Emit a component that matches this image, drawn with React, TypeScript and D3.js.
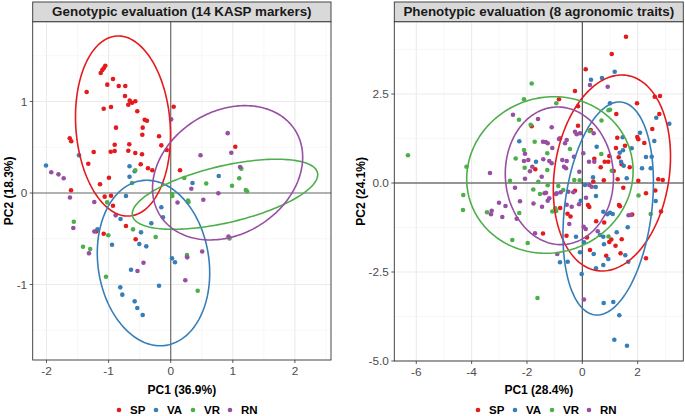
import React from 'react';
import * as d3 from 'd3';

const groups = ['SP', 'VA', 'VR', 'RN'];
const colors = ['#E41A1C', '#377EB8', '#4DAF4A', '#984EA3'];

// Genotypic PCA scores [PC1, PC2]
const genoSP = [[-1.053,1.391],[-1.079,1.363],[-1.101,1.344],[-1.127,1.311],[-0.929,1.246],[-1.021,1.184],[-0.837,1.169],[-0.731,1.169],[-1.353,1.104],[-0.736,1.06],[-0.66,1.009],[-0.57,1.002],[-0.623,0.987],[-0.683,0.965],[-0.961,0.94],[-1.079,0.921],[-0.538,0.893],[0.048,0.943],[-0.419,0.801],[-0.382,0.79],[-0.881,0.714],[-0.451,0.714],[-0.457,0.637],[-1.626,0.598],[-1.601,0.565],[-0.188,0.62],[-0.902,0.528],[-0.667,0.532],[-0.151,0.521],[-1.24,0.448],[-0.966,0.451],[-0.902,0.459],[-0.683,0.462],[-0.57,0.437],[-0.462,0.423],[-0.064,0.47],[-1.327,0.32],[-0.483,0.314],[-0.366,0.27],[-0.296,0.248],[0.15,0.248],[-0.994,0.167],[-1.138,0.095],[-1.605,0.03],[-1.063,-0.04],[-0.961,-0.03],[1.04,0.506],[-0.929,-0.139],[-0.72,-0.361],[-1.198,-0.419],[-1.079,-0.445],[-0.564,-0.506]];
const genoVA = [[-2.008,0.301],[-1.477,0.413],[-0.663,0.293],[-0.58,0.237],[-0.663,0.178],[-0.72,-0.033],[0.351,0.109],[0.773,0.186],[-0.151,-0.156],[-0.808,-0.284],[-0.124,-0.266],[-0.312,-0.331],[-1.179,-0.396],[-0.478,-0.43],[-0.945,-0.565],[-0.506,-0.557],[-0.393,-0.583],[0.021,-0.714],[0.069,-0.757],[-0.639,-0.838],[-0.188,-1.013],[-0.812,-1.031],[-0.779,-1.111],[-0.58,-1.184],[-0.538,-1.257],[-0.451,-1.333]];
const genoVR = [[-0.57,0.248],[-0.623,0.109],[0.021,-0.011],[0.026,-0.033],[0.219,0.164],[0.572,0.104],[1.137,0.266],[1.103,0.162],[0.987,0.079],[1.209,0.033],[1.229,0.019],[0.279,-0.082],[0.287,-0.098],[0.947,-0.497],[0.262,-0.678],[0.262,-0.694],[-1.023,-0.102],[-1.56,-0.314],[-0.607,-0.397],[-1.005,-0.462],[-0.242,-0.481],[-1.412,-0.587],[-1.296,-0.612],[-1.042,-0.915],[0.435,-1.068]];
const genoRN = [[-1.923,0.226],[-1.807,0.204],[-1.723,0.161],[-1.622,-0.049],[0.008,0.805],[0.918,0.654],[0.976,0.44],[0.48,0.412],[1.116,0.284],[0.332,0.046],[0.767,-0.003],[0.11,-0.104],[0.525,-0.073],[0.931,-0.475],[0.507,-0.639],[0.266,-0.703],[-1.23,-0.098],[-0.886,-0.244],[-1.568,-0.383],[-1.23,-0.421],[-1.316,-0.659],[-0.438,-0.762],[-0.535,-0.852],[0.235,-0.954]];

// Phenotypic PCA scores [PC1, PC2]
const phenoSP = [[1.579,4.11],[1.063,3.624],[0.123,3.194],[-0.264,2.584],[-0.842,2.351],[-0.155,2.154],[1.977,2.239],[2.617,2.424],[2.808,2.444],[2.783,1.938],[1.229,1.938],[2.53,1.517],[1.988,1.292],[2.024,1.228],[1.265,1.272],[2.241,1.124],[0.304,1.489],[-0.155,1.61],[1.218,0.983],[1.543,1.048],[0.81,0.598],[0.94,0.598],[0.976,0.758],[1.424,0.525],[1.316,0.722],[0.665,0.441],[1.135,0.337],[0.434,0.683],[1.713,0.441],[0.398,0.042],[0.777,0.079],[1.279,0.107],[2.024,0.065],[2.747,0.107],[2.906,0.084],[-1.829,1.593],[-1.699,0.385],[1.482,-0.132],[2.638,-0.211],[2.302,-0.289],[2.844,-0.801],[1.803,-0.885],[1.326,-0.618],[1.362,-0.654],[0.206,-0.618],[0.253,-0.674],[-0.535,-0.862],[-0.426,-0.941],[-0.799,-0.702],[0.791,-1.11],[0.502,-1.076],[-0.571,-1.48],[0.17,-1.531],[1.048,-1.587],[1.424,-1.581],[1.2,-1.761],[0.278,-1.882],[1.381,-1.975],[0.864,-2.045],[2.302,-2.115],[-1.42,-1.419],[0.976,-1.657],[-0.264,-0.216]];
const phenoVA = [[1.171,3.126],[0.712,2.949],[0.314,2.902],[1.001,2.239],[2.674,1.834],[3.144,1.666],[2.085,1.413],[1.46,1.284],[2.602,1.18],[0.52,1.02],[1.785,0.975],[2.302,0.73],[1.471,0.919],[1.399,0.598],[1.605,0.132],[0.387,0.16],[2.158,0.413],[2.472,0.413],[-2.277,1.171],[-1.673,0.598],[-0.925,-0.289],[0.098,-0.056],[0.484,-0.112],[-0.058,-0.497],[0.495,-0.365],[1.641,-1.244],[0.759,-0.806],[0.904,-0.879],[1.001,-0.834],[1.099,-0.871],[0.64,-1.461],[0.759,-1.508],[-0.228,-1.508],[0.061,-1.666],[0.412,-1.994],[-0.083,-1.947],[-0.528,-2.211],[-0.806,-2.228],[-0.022,-2.556],[0.495,-2.396],[0.759,-2.303],[0.94,-2.135],[1.554,-2.031],[1.662,-2.211],[1.243,-1.385],[0.784,-1.722],[0.773,-3.371],[1.12,-3.343],[1.337,-3.716],[1.157,-4.402],[1.615,-4.57],[2.653,-0.506],[1.352,0.851],[1.496,0.486],[2.508,0.739]];
const phenoVR = [[-1.829,2.795],[-2.107,2.354],[-2.288,1.778],[-1.865,1.638],[-6.299,0.778],[-4.185,0.455],[-4.301,-0.337],[-1.72,1.16],[-2.107,0.927],[-2.407,0.688],[-2.082,0.43],[-1.265,0.834],[-1.265,0.365],[-2.613,0.065],[-1.59,0.037],[-1.771,-0.183],[-1.25,-0.065],[-0.94,2.239],[1.001,2.059],[0.947,2.042],[0.694,1.756],[0.267,1.461],[0.687,0.815],[1.063,0.346],[-0.445,0.955],[-0.289,0.084],[-0.094,0.076],[-4.312,-0.758],[-3.444,-0.823],[-2.277,-0.843],[-2.53,-1.601],[-1.973,-1.685],[-1.619,-3.23],[-1.529,-0.309],[-1.084,-0.801],[-0.94,-0.787],[-0.867,-0.084],[-0.687,-0.197],[-0.976,-0.711],[2.031,-0.351],[2.472,-0.871],[0.947,-1.503]];
const phenoRN = [[-2.505,1.919],[-1.601,1.798],[-1.106,1.565],[-1.42,1.16],[-1.323,1.152],[-1.25,1.115],[-1.084,0.983],[-0.842,1.236],[-2.071,0.823],[-1.952,0.646],[-2.107,0.618],[-1.409,0.666],[-1.193,0.618],[-1.106,0.553],[-1.807,0.458],[-1.89,0.329],[-2.071,0.121],[-3.336,0.281],[-2.432,-0.132],[-1.467,0.177],[0.918,2.705],[0.278,2.753],[-0.264,1.441],[-0.202,1.368],[-0.083,1.396],[-0.564,1.208],[-0.806,1.256],[-0.625,1.115],[-0.723,0.646],[-0.564,0.618],[-0.661,0.458],[-0.589,0.413],[0.036,0.834],[-0.3,0.739],[0.412,1.396],[0.434,0.598],[0.242,0.598],[-0.108,0.317],[-3.011,-0.553],[-2.776,-0.646],[-2.252,-0.514],[-3.274,-0.778],[-3.3,-0.879],[-2.891,-0.955],[-2.371,-1.003],[-1.764,-0.576],[-1.456,-0.669],[-1.25,-0.497],[-1.193,-0.43],[-1.366,-0.289],[-1.312,-0.272],[-1.709,-1.413],[-0.47,-1.152],[-0.119,-0.598],[0.051,-1.228],[0.123,-1.292],[0.557,-1.357],[0.061,-3.272],[1.67,-0.907],[1.749,-0.899],[-0.95,-0.309],[-0.781,-0.261],[-0.506,-0.244],[-0.325,-0.261],[0.134,-0.413],[0.34,-0.104],[0.253,-0.056],[-0.383,-0.666],[-0.904,-1.994],[-0.564,-0.61]];

// 95% ellipses: [centre PC1, centre PC2, half-width, half-height, correlation]
const genoEllipses = [[-0.768,0.732,0.765,0.984,-0.10],[-0.277,-0.765,0.905,0.904,-0.12],[0.874,-0.014,1.493,0.383,0.558],[0.916,0.221,1.209,0.734,0.232]];
const phenoEllipses = [[1.07,0.281,2.118,2.753,0.167],[0.936,-0.716,1.634,2.992,0.246],[-1.171,0.225,3.007,2.199,0.05],[-0.828,0.202,1.955,1.933,-0.03]];

const genoXTicks = [-2, -1, 0, 1, 2];
const genoYTicks = [-1, 0, 1];
const phenoXTicks = [-6, -4, -2, 0, 2];
const phenoYTicks = [-5, -2.5, 0, 2.5];

const FONT = 'Liberation Sans, Arial, Helvetica, sans-serif';

function ellipsePts(e: number[]) {
  const [cx, cy, rx, ry, r] = e;
  const s = Math.sqrt(1 - r * r);
  return d3.range(0, 181).map(i => {
    const t = (i / 180) * 2 * Math.PI;
    return [cx + rx * Math.cos(t), cy + ry * (r * Math.cos(t) + s * Math.sin(t))];
  });
}

function Panel(props: any) {
  const { title, box, xDomain, yDomain, xTicks, yTicks, xMinor, yMinor, yFmt, data, ellipses, xLabel, yLabel, yLabelX, legendX, zeroColor, zeroWidth } = props;
  const [L, R, T, B] = box;
  const sx = d3.scaleLinear().domain(xDomain).range([L, R]);
  const sy = d3.scaleLinear().domain(yDomain).range([B, T]);
  const line = d3.line().x((d: any) => sx(d[0])).y((d: any) => sy(d[1])).curve(d3.curveLinearClosed);
  const cx = (L + R) / 2;
  const clipId = 'clip' + Math.round(L);
  return (
    <g>
      <defs>
        <clipPath id={clipId}><rect x={L} y={T} width={R - L} height={B - T} /></clipPath>
      </defs>
      <rect x={L} y={T} width={R - L} height={B - T} fill="#fff" />
      {xMinor.map((v: number) => <line key={'xm' + v} x1={sx(v)} x2={sx(v)} y1={T} y2={B} stroke="#F2F2F2" strokeWidth={0.6} />)}
      {yMinor.map((v: number) => <line key={'ym' + v} x1={L} x2={R} y1={sy(v)} y2={sy(v)} stroke="#F2F2F2" strokeWidth={0.6} />)}
      {xTicks.map((v: number) => <line key={'xg' + v} x1={sx(v)} x2={sx(v)} y1={T} y2={B} stroke="#EBEBEB" strokeWidth={1.1} />)}
      {yTicks.map((v: number) => <line key={'yg' + v} x1={L} x2={R} y1={sy(v)} y2={sy(v)} stroke="#EBEBEB" strokeWidth={1.1} />)}
      <line x1={sx(0)} x2={sx(0)} y1={T} y2={B} stroke={zeroColor} strokeWidth={zeroWidth} />
      <line x1={L} x2={R} y1={sy(0)} y2={sy(0)} stroke={zeroColor} strokeWidth={zeroWidth} />
      <g clipPath={`url(#${clipId})`}>
        {data.map((pts: number[][], gi: number) => pts.map((p, i) => (
          <circle key={gi + '-' + i} cx={sx(p[0])} cy={sy(p[1])} r={2.3} fill={colors[gi]} />
        )))}
        {ellipses.map((e: number[], gi: number) => (
          <path key={'e' + gi} d={line(ellipsePts(e) as any) || ''} fill="none" stroke={colors[gi]} strokeWidth={1.6} />
        ))}
      </g>
      <rect x={L} y={T} width={R - L} height={B - T} fill="none" stroke="#333" strokeWidth={0.9} />
      <rect x={L} y={2} width={R - L} height={T - 2} fill="#D9D9D9" stroke="#333" strokeWidth={0.9} />
      <text x={cx} y={T - 5.3} textAnchor="middle" fontFamily={FONT} fontWeight="bold" fontSize={13.4} fill="#1A1A1A">{title}</text>
      {xTicks.map((v: number) => (
        <g key={'xt' + v}>
          <line x1={sx(v)} x2={sx(v)} y1={B} y2={B + 3} stroke="#333" strokeWidth={0.8} />
          <text x={sx(v)} y={B + 14.5} textAnchor="middle" fontFamily={FONT} fontSize={11.8} fill="#4D4D4D">{String(v)}</text>
        </g>
      ))}
      {yTicks.map((v: number) => (
        <g key={'yt' + v}>
          <line x1={L - 3} x2={L} y1={sy(v)} y2={sy(v)} stroke="#333" strokeWidth={0.8} />
          <text x={L - 5.5} y={sy(v) + 4.2} textAnchor="end" fontFamily={FONT} fontSize={11.8} fill="#4D4D4D">{yFmt(v)}</text>
        </g>
      ))}
      <text x={cx} y={393.5} textAnchor="middle" fontFamily={FONT} fontWeight="bold" fontSize={12} fill="#000">{xLabel}</text>
      <text transform={`translate(${yLabelX},${(T + B) / 2}) rotate(-90)`} textAnchor="middle" fontFamily={FONT} fontWeight="bold" fontSize={12} fill="#000">{yLabel}</text>
      {groups.map((g, i) => (
        <g key={'lg' + g}>
          <circle cx={legendX + i * 37} cy={410} r={2.3} fill={colors[i]} />
          <text x={legendX + i * 37 + 11} y={414.2} fontFamily={FONT} fontWeight="bold" fontSize={11.5} fill="#000">{g}</text>
        </g>
      ))}
    </g>
  );
}

export default function App() {
  return (
    <svg width={685} height={416} style={{ position: 'absolute', left: 0, top: 0, background: '#fff' }}>
      <rect x={0} y={0} width={685} height={416} fill="#fff" />
      <Panel
        title="Genotypic evaluation (14 KASP markers)"
        box={[32.7, 331, 21.7, 360]}
        xDomain={[-2.222, 2.581]}
        yDomain={[-1.825, 1.872]}
        xTicks={genoXTicks}
        yTicks={genoYTicks}
        xMinor={[-1.5, -0.5, 0.5, 1.5, 2.5]}
        yMinor={[-1.5, -0.5, 0.5, 1.5]}
        yFmt={(v: number) => String(v)}
        data={[genoSP, genoVA, genoVR, genoRN]}
        ellipses={genoEllipses}
        xLabel="PC1 (36.9%)"
        yLabel="PC2 (18.3%)"
        yLabelX={12.5}
        legendX={119}
        zeroColor="#6E6E6E"
        zeroWidth={1.2}
      />
      <Panel
        title="Phenotypic evaluation (8 agronomic traits)"
        box={[394.3, 683.3, 21.7, 361]}
        xDomain={[-6.794, 3.65]}
        yDomain={[-5.0, 4.531]}
        xTicks={phenoXTicks}
        yTicks={phenoYTicks}
        xMinor={[-5, -3, -1, 1, 3]}
        yMinor={[-3.75, -1.25, 1.25, 3.75]}
        yFmt={(v: number) => v.toFixed(1)}
        data={[phenoSP, phenoVA, phenoVR, phenoRN]}
        ellipses={phenoEllipses}
        xLabel="PC1 (28.4%)"
        yLabel="PC2 (24.1%)"
        yLabelX={364.5}
        legendX={478}
        zeroColor="#222"
        zeroWidth={0.9}
      />
    </svg>
  );
}
